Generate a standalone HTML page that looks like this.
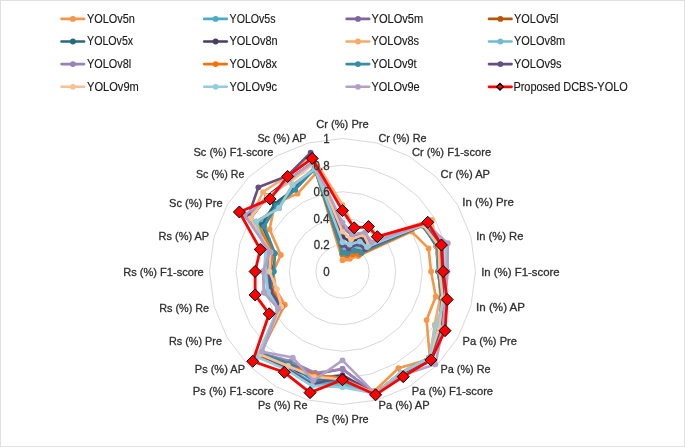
<!DOCTYPE html><html><head><meta charset="utf-8"><style>html,body{margin:0;padding:0;background:#fff;overflow:hidden;width:685px;height:447px;}svg{display:block;will-change:transform;}text{font-family:"Liberation Sans",sans-serif;}</style></head><body>
<svg width="685" height="447" viewBox="0 0 685 447">
<rect x="0" y="0" width="685" height="447" fill="#fff"/>
<rect x="0.5" y="0.5" width="684" height="446" fill="none" stroke="#e0e0e0" stroke-width="1"/>
<polygon points="342.50,244.90 349.38,245.81 355.80,248.46 361.31,252.69 365.54,258.20 368.19,264.62 369.10,271.50 368.19,278.38 365.54,284.80 361.31,290.31 355.80,294.54 349.38,297.19 342.50,298.10 335.62,297.19 329.20,294.54 323.69,290.31 319.46,284.80 316.81,278.38 315.90,271.50 316.81,264.62 319.46,258.20 323.69,252.69 329.20,248.46 335.62,245.81" fill="none" stroke="#d9d9d9" stroke-width="1"/>
<polygon points="342.50,218.30 356.27,220.11 369.10,225.43 380.12,233.88 388.57,244.90 393.89,257.73 395.70,271.50 393.89,285.27 388.57,298.10 380.12,309.12 369.10,317.57 356.27,322.89 342.50,324.70 328.73,322.89 315.90,317.57 304.88,309.12 296.43,298.10 291.11,285.27 289.30,271.50 291.11,257.73 296.43,244.90 304.88,233.88 315.90,225.43 328.73,220.11" fill="none" stroke="#d9d9d9" stroke-width="1"/>
<polygon points="342.50,191.70 363.15,194.42 382.40,202.39 398.93,215.07 411.61,231.60 419.58,250.85 422.30,271.50 419.58,292.15 411.61,311.40 398.93,327.93 382.40,340.61 363.15,348.58 342.50,351.30 321.85,348.58 302.60,340.61 286.07,327.93 273.39,311.40 265.42,292.15 262.70,271.50 265.42,250.85 273.39,231.60 286.07,215.07 302.60,202.39 321.85,194.42" fill="none" stroke="#d9d9d9" stroke-width="1"/>
<polygon points="342.50,165.10 370.04,168.73 395.70,179.35 417.74,196.26 434.65,218.30 445.27,243.96 448.90,271.50 445.27,299.04 434.65,324.70 417.74,346.74 395.70,363.65 370.04,374.27 342.50,377.90 314.96,374.27 289.30,363.65 267.26,346.74 250.35,324.70 239.73,299.04 236.10,271.50 239.73,243.96 250.35,218.30 267.26,196.26 289.30,179.35 314.96,168.73" fill="none" stroke="#d9d9d9" stroke-width="1"/>
<polygon points="342.50,138.50 376.92,143.03 409.00,156.32 436.55,177.45 457.68,205.00 470.97,237.08 475.50,271.50 470.97,305.92 457.68,338.00 436.55,365.55 409.00,386.68 376.92,399.97 342.50,404.50 308.08,399.97 276.00,386.68 248.45,365.55 227.32,338.00 214.03,305.92 209.50,271.50 214.03,237.08 227.32,205.00 248.45,177.45 276.00,156.32 308.08,143.03" fill="none" stroke="#d9d9d9" stroke-width="1"/>
<text x="316.24" y="128.10" font-size="11" fill="#303030" stroke="#303030" stroke-width="0.3" textLength="52.46" lengthAdjust="spacingAndGlyphs">Cr (%) Pre</text>
<text x="378.45" y="141.90" font-size="11" fill="#303030" stroke="#303030" stroke-width="0.3" textLength="48.13" lengthAdjust="spacingAndGlyphs">Cr (%) Re</text>
<text x="411.93" y="155.80" font-size="11" fill="#303030" stroke="#303030" stroke-width="0.3" textLength="79.16" lengthAdjust="spacingAndGlyphs">Cr (%) F1-score</text>
<text x="440.64" y="177.60" font-size="11" fill="#303030" stroke="#303030" stroke-width="0.3" textLength="49.36" lengthAdjust="spacingAndGlyphs">Cr (%) AP</text>
<text x="462.24" y="206.30" font-size="11" fill="#303030" stroke="#303030" stroke-width="0.3" textLength="51.57" lengthAdjust="spacingAndGlyphs">In (%) Pre</text>
<text x="476.17" y="239.80" font-size="11" fill="#303030" stroke="#303030" stroke-width="0.3" textLength="47.24" lengthAdjust="spacingAndGlyphs">In (%) Re</text>
<text x="481.15" y="275.50" font-size="11" fill="#303030" stroke="#303030" stroke-width="0.3" textLength="78.46" lengthAdjust="spacingAndGlyphs">In (%) F1-score</text>
<text x="476.13" y="311.00" font-size="11" fill="#303030" stroke="#303030" stroke-width="0.3" textLength="48.88" lengthAdjust="spacingAndGlyphs">In (%) AP</text>
<text x="462.59" y="344.90" font-size="11" fill="#303030" stroke="#303030" stroke-width="0.3" textLength="54.40" lengthAdjust="spacingAndGlyphs">Pa (%) Pre</text>
<text x="440.51" y="373.20" font-size="11" fill="#303030" stroke="#303030" stroke-width="0.3" textLength="50.07" lengthAdjust="spacingAndGlyphs">Pa (%) Re</text>
<text x="411.69" y="395.30" font-size="11" fill="#303030" stroke="#303030" stroke-width="0.3" textLength="81.41" lengthAdjust="spacingAndGlyphs">Pa (%) F1-score</text>
<text x="378.49" y="408.90" font-size="11" fill="#303030" stroke="#303030" stroke-width="0.3" textLength="51.19" lengthAdjust="spacingAndGlyphs">Pa (%) AP</text>
<text x="315.91" y="422.60" font-size="11" fill="#303030" stroke="#303030" stroke-width="0.3" textLength="52.68" lengthAdjust="spacingAndGlyphs">Ps (%) Pre</text>
<text x="258.12" y="408.90" font-size="11" fill="#303030" stroke="#303030" stroke-width="0.3" textLength="49.37" lengthAdjust="spacingAndGlyphs">Ps (%) Re</text>
<text x="192.79" y="395.30" font-size="11" fill="#303030" stroke="#303030" stroke-width="0.3" textLength="80.92" lengthAdjust="spacingAndGlyphs">Ps (%) F1-score</text>
<text x="194.80" y="373.20" font-size="11" fill="#303030" stroke="#303030" stroke-width="0.3" textLength="50.18" lengthAdjust="spacingAndGlyphs">Ps (%) AP</text>
<text x="168.91" y="344.90" font-size="11" fill="#303030" stroke="#303030" stroke-width="0.3" textLength="53.07" lengthAdjust="spacingAndGlyphs">Rs (%) Pre</text>
<text x="159.22" y="311.50" font-size="11" fill="#303030" stroke="#303030" stroke-width="0.3" textLength="49.87" lengthAdjust="spacingAndGlyphs">Rs (%) Re</text>
<text x="123.20" y="275.50" font-size="11" fill="#303030" stroke="#303030" stroke-width="0.3" textLength="80.59" lengthAdjust="spacingAndGlyphs">Rs (%) F1-score</text>
<text x="158.60" y="240.10" font-size="11" fill="#303030" stroke="#303030" stroke-width="0.3" textLength="50.57" lengthAdjust="spacingAndGlyphs">Rs (%) AP</text>
<text x="168.99" y="206.60" font-size="11" fill="#303030" stroke="#303030" stroke-width="0.3" textLength="53.61" lengthAdjust="spacingAndGlyphs">Sc (%) Pre</text>
<text x="195.91" y="177.70" font-size="11" fill="#303030" stroke="#303030" stroke-width="0.3" textLength="48.46" lengthAdjust="spacingAndGlyphs">Sc (%) Re</text>
<text x="193.49" y="155.70" font-size="11" fill="#303030" stroke="#303030" stroke-width="0.3" textLength="79.80" lengthAdjust="spacingAndGlyphs">Sc (%) F1-score</text>
<text x="257.41" y="142.10" font-size="11" fill="#303030" stroke="#303030" stroke-width="0.3" textLength="49.16" lengthAdjust="spacingAndGlyphs">Sc (%) AP</text>
<polygon points="342.50,260.19 345.94,258.65 349.81,258.83 358.02,255.98 411.61,231.60 428.57,248.44 431.08,271.50 435.77,296.49 426.58,320.04 429.96,358.96 398.36,368.25 374.51,390.98 342.50,377.90 314.62,375.56 288.63,364.80 259.74,354.26 284.91,304.75 275.70,289.40 273.34,271.50 280.84,254.98 269.59,229.41 274.79,203.79 297.55,193.64 316.13,173.09" fill="none" stroke="#F79646" stroke-width="2.6" stroke-linejoin="round"/>
<circle cx="342.50" cy="260.19" r="2.9" fill="#F79646"/>
<circle cx="345.94" cy="258.65" r="2.9" fill="#F79646"/>
<circle cx="349.81" cy="258.83" r="2.9" fill="#F79646"/>
<circle cx="358.02" cy="255.98" r="2.9" fill="#F79646"/>
<circle cx="411.61" cy="231.60" r="2.9" fill="#F79646"/>
<circle cx="428.57" cy="248.44" r="2.9" fill="#F79646"/>
<circle cx="431.08" cy="271.50" r="2.9" fill="#F79646"/>
<circle cx="435.77" cy="296.49" r="2.9" fill="#F79646"/>
<circle cx="426.58" cy="320.04" r="2.9" fill="#F79646"/>
<circle cx="429.96" cy="358.96" r="2.9" fill="#F79646"/>
<circle cx="398.36" cy="368.25" r="2.9" fill="#F79646"/>
<circle cx="374.51" cy="390.98" r="2.9" fill="#F79646"/>
<circle cx="342.50" cy="377.90" r="2.9" fill="#F79646"/>
<circle cx="314.62" cy="375.56" r="2.9" fill="#F79646"/>
<circle cx="288.63" cy="364.80" r="2.9" fill="#F79646"/>
<circle cx="259.74" cy="354.26" r="2.9" fill="#F79646"/>
<circle cx="284.91" cy="304.75" r="2.9" fill="#F79646"/>
<circle cx="275.70" cy="289.40" r="2.9" fill="#F79646"/>
<circle cx="273.34" cy="271.50" r="2.9" fill="#F79646"/>
<circle cx="280.84" cy="254.98" r="2.9" fill="#F79646"/>
<circle cx="269.59" cy="229.41" r="2.9" fill="#F79646"/>
<circle cx="274.79" cy="203.79" r="2.9" fill="#F79646"/>
<circle cx="297.55" cy="193.64" r="2.9" fill="#F79646"/>
<circle cx="316.13" cy="173.09" r="2.9" fill="#F79646"/>
<polygon points="342.50,250.22 348.01,250.95 355.80,248.46 363.19,250.81 423.13,224.95 437.57,246.03 439.59,271.50 442.71,298.35 439.25,327.36 429.02,358.02 401.02,372.86 375.20,393.54 342.50,383.22 312.55,383.27 287.31,367.10 259.74,354.26 279.15,308.08 269.27,291.12 268.02,271.50 269.27,251.88 258.42,222.95 276.67,205.67 293.95,187.42 314.96,168.73" fill="none" stroke="#4BACC6" stroke-width="2.6" stroke-linejoin="round"/>
<circle cx="342.50" cy="250.22" r="2.9" fill="#4BACC6"/>
<circle cx="348.01" cy="250.95" r="2.9" fill="#4BACC6"/>
<circle cx="355.80" cy="248.46" r="2.9" fill="#4BACC6"/>
<circle cx="363.19" cy="250.81" r="2.9" fill="#4BACC6"/>
<circle cx="423.13" cy="224.95" r="2.9" fill="#4BACC6"/>
<circle cx="437.57" cy="246.03" r="2.9" fill="#4BACC6"/>
<circle cx="439.59" cy="271.50" r="2.9" fill="#4BACC6"/>
<circle cx="442.71" cy="298.35" r="2.9" fill="#4BACC6"/>
<circle cx="439.25" cy="327.36" r="2.9" fill="#4BACC6"/>
<circle cx="429.02" cy="358.02" r="2.9" fill="#4BACC6"/>
<circle cx="401.02" cy="372.86" r="2.9" fill="#4BACC6"/>
<circle cx="375.20" cy="393.54" r="2.9" fill="#4BACC6"/>
<circle cx="342.50" cy="383.22" r="2.9" fill="#4BACC6"/>
<circle cx="312.55" cy="383.27" r="2.9" fill="#4BACC6"/>
<circle cx="287.31" cy="367.10" r="2.9" fill="#4BACC6"/>
<circle cx="259.74" cy="354.26" r="2.9" fill="#4BACC6"/>
<circle cx="279.15" cy="308.08" r="2.9" fill="#4BACC6"/>
<circle cx="269.27" cy="291.12" r="2.9" fill="#4BACC6"/>
<circle cx="268.02" cy="271.50" r="2.9" fill="#4BACC6"/>
<circle cx="269.27" cy="251.88" r="2.9" fill="#4BACC6"/>
<circle cx="258.42" cy="222.95" r="2.9" fill="#4BACC6"/>
<circle cx="276.67" cy="205.67" r="2.9" fill="#4BACC6"/>
<circle cx="293.95" cy="187.42" r="2.9" fill="#4BACC6"/>
<circle cx="314.96" cy="168.73" r="2.9" fill="#4BACC6"/>
<polygon points="342.50,242.24 349.04,247.09 359.12,242.70 366.01,247.99 424.28,224.28 440.14,245.34 440.92,271.50 443.99,298.69 440.40,328.02 429.96,358.96 401.69,374.01 375.20,393.54 342.50,368.99 314.96,374.27 289.96,362.49 260.68,353.32 280.30,307.41 270.56,290.78 269.35,271.50 270.56,252.22 248.05,216.97 267.26,196.26 289.30,179.35 313.24,162.30" fill="none" stroke="#8064A2" stroke-width="2.6" stroke-linejoin="round"/>
<circle cx="342.50" cy="242.24" r="2.9" fill="#8064A2"/>
<circle cx="349.04" cy="247.09" r="2.9" fill="#8064A2"/>
<circle cx="359.12" cy="242.70" r="2.9" fill="#8064A2"/>
<circle cx="366.01" cy="247.99" r="2.9" fill="#8064A2"/>
<circle cx="424.28" cy="224.28" r="2.9" fill="#8064A2"/>
<circle cx="440.14" cy="245.34" r="2.9" fill="#8064A2"/>
<circle cx="440.92" cy="271.50" r="2.9" fill="#8064A2"/>
<circle cx="443.99" cy="298.69" r="2.9" fill="#8064A2"/>
<circle cx="440.40" cy="328.02" r="2.9" fill="#8064A2"/>
<circle cx="429.96" cy="358.96" r="2.9" fill="#8064A2"/>
<circle cx="401.69" cy="374.01" r="2.9" fill="#8064A2"/>
<circle cx="375.20" cy="393.54" r="2.9" fill="#8064A2"/>
<circle cx="342.50" cy="368.99" r="2.9" fill="#8064A2"/>
<circle cx="314.96" cy="374.27" r="2.9" fill="#8064A2"/>
<circle cx="289.96" cy="362.49" r="2.9" fill="#8064A2"/>
<circle cx="260.68" cy="353.32" r="2.9" fill="#8064A2"/>
<circle cx="280.30" cy="307.41" r="2.9" fill="#8064A2"/>
<circle cx="270.56" cy="290.78" r="2.9" fill="#8064A2"/>
<circle cx="269.35" cy="271.50" r="2.9" fill="#8064A2"/>
<circle cx="270.56" cy="252.22" r="2.9" fill="#8064A2"/>
<circle cx="248.05" cy="216.97" r="2.9" fill="#8064A2"/>
<circle cx="267.26" cy="196.26" r="2.9" fill="#8064A2"/>
<circle cx="289.30" cy="179.35" r="2.9" fill="#8064A2"/>
<circle cx="313.24" cy="162.30" r="2.9" fill="#8064A2"/>
<polygon points="342.50,250.22 347.66,252.23 355.13,249.62 362.25,251.75 424.28,224.28 438.85,245.68 439.59,271.50 442.71,298.35 439.25,327.36 429.02,358.02 401.02,372.86 375.20,393.54 342.50,377.90 314.62,375.56 288.63,364.80 258.80,355.20 281.45,306.75 271.84,290.43 269.35,271.50 271.84,252.57 250.35,218.30 267.26,196.26 289.96,180.51 313.24,162.30" fill="none" stroke="#B65708" stroke-width="2.6" stroke-linejoin="round"/>
<circle cx="342.50" cy="250.22" r="2.9" fill="#B65708"/>
<circle cx="347.66" cy="252.23" r="2.9" fill="#B65708"/>
<circle cx="355.13" cy="249.62" r="2.9" fill="#B65708"/>
<circle cx="362.25" cy="251.75" r="2.9" fill="#B65708"/>
<circle cx="424.28" cy="224.28" r="2.9" fill="#B65708"/>
<circle cx="438.85" cy="245.68" r="2.9" fill="#B65708"/>
<circle cx="439.59" cy="271.50" r="2.9" fill="#B65708"/>
<circle cx="442.71" cy="298.35" r="2.9" fill="#B65708"/>
<circle cx="439.25" cy="327.36" r="2.9" fill="#B65708"/>
<circle cx="429.02" cy="358.02" r="2.9" fill="#B65708"/>
<circle cx="401.02" cy="372.86" r="2.9" fill="#B65708"/>
<circle cx="375.20" cy="393.54" r="2.9" fill="#B65708"/>
<circle cx="342.50" cy="377.90" r="2.9" fill="#B65708"/>
<circle cx="314.62" cy="375.56" r="2.9" fill="#B65708"/>
<circle cx="288.63" cy="364.80" r="2.9" fill="#B65708"/>
<circle cx="258.80" cy="355.20" r="2.9" fill="#B65708"/>
<circle cx="281.45" cy="306.75" r="2.9" fill="#B65708"/>
<circle cx="271.84" cy="290.43" r="2.9" fill="#B65708"/>
<circle cx="269.35" cy="271.50" r="2.9" fill="#B65708"/>
<circle cx="271.84" cy="252.57" r="2.9" fill="#B65708"/>
<circle cx="250.35" cy="218.30" r="2.9" fill="#B65708"/>
<circle cx="267.26" cy="196.26" r="2.9" fill="#B65708"/>
<circle cx="289.96" cy="180.51" r="2.9" fill="#B65708"/>
<circle cx="313.24" cy="162.30" r="2.9" fill="#B65708"/>
<polygon points="342.50,254.21 346.97,254.80 353.81,251.92 360.37,253.63 423.13,224.95 436.28,246.37 438.26,271.50 441.42,298.01 440.40,328.02 429.02,358.02 401.02,372.86 375.20,393.54 342.50,379.23 313.58,379.41 289.30,363.65 260.68,353.32 280.30,307.41 270.56,290.78 272.01,271.50 274.41,253.26 261.87,224.95 274.79,203.79 294.62,188.57 314.62,167.44" fill="none" stroke="#276A7C" stroke-width="2.6" stroke-linejoin="round"/>
<circle cx="342.50" cy="254.21" r="2.9" fill="#276A7C"/>
<circle cx="346.97" cy="254.80" r="2.9" fill="#276A7C"/>
<circle cx="353.81" cy="251.92" r="2.9" fill="#276A7C"/>
<circle cx="360.37" cy="253.63" r="2.9" fill="#276A7C"/>
<circle cx="423.13" cy="224.95" r="2.9" fill="#276A7C"/>
<circle cx="436.28" cy="246.37" r="2.9" fill="#276A7C"/>
<circle cx="438.26" cy="271.50" r="2.9" fill="#276A7C"/>
<circle cx="441.42" cy="298.01" r="2.9" fill="#276A7C"/>
<circle cx="440.40" cy="328.02" r="2.9" fill="#276A7C"/>
<circle cx="429.02" cy="358.02" r="2.9" fill="#276A7C"/>
<circle cx="401.02" cy="372.86" r="2.9" fill="#276A7C"/>
<circle cx="375.20" cy="393.54" r="2.9" fill="#276A7C"/>
<circle cx="342.50" cy="379.23" r="2.9" fill="#276A7C"/>
<circle cx="313.58" cy="379.41" r="2.9" fill="#276A7C"/>
<circle cx="289.30" cy="363.65" r="2.9" fill="#276A7C"/>
<circle cx="260.68" cy="353.32" r="2.9" fill="#276A7C"/>
<circle cx="280.30" cy="307.41" r="2.9" fill="#276A7C"/>
<circle cx="270.56" cy="290.78" r="2.9" fill="#276A7C"/>
<circle cx="272.01" cy="271.50" r="2.9" fill="#276A7C"/>
<circle cx="274.41" cy="253.26" r="2.9" fill="#276A7C"/>
<circle cx="261.87" cy="224.95" r="2.9" fill="#276A7C"/>
<circle cx="274.79" cy="203.79" r="2.9" fill="#276A7C"/>
<circle cx="294.62" cy="188.57" r="2.9" fill="#276A7C"/>
<circle cx="314.62" cy="167.44" r="2.9" fill="#276A7C"/>
<polygon points="342.50,236.92 350.42,241.95 361.78,238.10 367.89,246.11 425.43,223.62 440.14,245.34 440.92,271.50 443.99,298.69 441.56,328.69 429.96,358.96 401.69,374.01 375.20,393.54 342.50,375.24 313.93,378.13 287.31,367.10 259.74,354.26 281.45,306.75 271.84,290.43 270.68,271.50 271.84,252.57 250.35,218.30 267.26,196.26 289.30,179.35 313.24,162.30" fill="none" stroke="#4C3B62" stroke-width="2.6" stroke-linejoin="round"/>
<circle cx="342.50" cy="236.92" r="2.9" fill="#4C3B62"/>
<circle cx="350.42" cy="241.95" r="2.9" fill="#4C3B62"/>
<circle cx="361.78" cy="238.10" r="2.9" fill="#4C3B62"/>
<circle cx="367.89" cy="246.11" r="2.9" fill="#4C3B62"/>
<circle cx="425.43" cy="223.62" r="2.9" fill="#4C3B62"/>
<circle cx="440.14" cy="245.34" r="2.9" fill="#4C3B62"/>
<circle cx="440.92" cy="271.50" r="2.9" fill="#4C3B62"/>
<circle cx="443.99" cy="298.69" r="2.9" fill="#4C3B62"/>
<circle cx="441.56" cy="328.69" r="2.9" fill="#4C3B62"/>
<circle cx="429.96" cy="358.96" r="2.9" fill="#4C3B62"/>
<circle cx="401.69" cy="374.01" r="2.9" fill="#4C3B62"/>
<circle cx="375.20" cy="393.54" r="2.9" fill="#4C3B62"/>
<circle cx="342.50" cy="375.24" r="2.9" fill="#4C3B62"/>
<circle cx="313.93" cy="378.13" r="2.9" fill="#4C3B62"/>
<circle cx="287.31" cy="367.10" r="2.9" fill="#4C3B62"/>
<circle cx="259.74" cy="354.26" r="2.9" fill="#4C3B62"/>
<circle cx="281.45" cy="306.75" r="2.9" fill="#4C3B62"/>
<circle cx="271.84" cy="290.43" r="2.9" fill="#4C3B62"/>
<circle cx="270.68" cy="271.50" r="2.9" fill="#4C3B62"/>
<circle cx="271.84" cy="252.57" r="2.9" fill="#4C3B62"/>
<circle cx="250.35" cy="218.30" r="2.9" fill="#4C3B62"/>
<circle cx="267.26" cy="196.26" r="2.9" fill="#4C3B62"/>
<circle cx="289.30" cy="179.35" r="2.9" fill="#4C3B62"/>
<circle cx="313.24" cy="162.30" r="2.9" fill="#4C3B62"/>
<polygon points="342.50,205.00 354.20,227.82 367.77,227.73 376.36,237.64 432.00,219.83 436.28,246.37 438.93,271.50 440.14,297.66 434.65,324.70 429.96,358.96 401.69,374.01 375.20,393.54 342.50,377.90 314.62,375.56 287.97,365.95 259.74,354.26 282.61,306.08 273.13,290.09 269.35,271.50 274.41,253.26 250.35,218.30 263.03,192.03 287.30,175.90 311.18,154.59" fill="none" stroke="#F9AA6A" stroke-width="2.6" stroke-linejoin="round"/>
<circle cx="342.50" cy="205.00" r="2.9" fill="#F9AA6A"/>
<circle cx="354.20" cy="227.82" r="2.9" fill="#F9AA6A"/>
<circle cx="367.77" cy="227.73" r="2.9" fill="#F9AA6A"/>
<circle cx="376.36" cy="237.64" r="2.9" fill="#F9AA6A"/>
<circle cx="432.00" cy="219.83" r="2.9" fill="#F9AA6A"/>
<circle cx="436.28" cy="246.37" r="2.9" fill="#F9AA6A"/>
<circle cx="438.93" cy="271.50" r="2.9" fill="#F9AA6A"/>
<circle cx="440.14" cy="297.66" r="2.9" fill="#F9AA6A"/>
<circle cx="434.65" cy="324.70" r="2.9" fill="#F9AA6A"/>
<circle cx="429.96" cy="358.96" r="2.9" fill="#F9AA6A"/>
<circle cx="401.69" cy="374.01" r="2.9" fill="#F9AA6A"/>
<circle cx="375.20" cy="393.54" r="2.9" fill="#F9AA6A"/>
<circle cx="342.50" cy="377.90" r="2.9" fill="#F9AA6A"/>
<circle cx="314.62" cy="375.56" r="2.9" fill="#F9AA6A"/>
<circle cx="287.97" cy="365.95" r="2.9" fill="#F9AA6A"/>
<circle cx="259.74" cy="354.26" r="2.9" fill="#F9AA6A"/>
<circle cx="282.61" cy="306.08" r="2.9" fill="#F9AA6A"/>
<circle cx="273.13" cy="290.09" r="2.9" fill="#F9AA6A"/>
<circle cx="269.35" cy="271.50" r="2.9" fill="#F9AA6A"/>
<circle cx="274.41" cy="253.26" r="2.9" fill="#F9AA6A"/>
<circle cx="250.35" cy="218.30" r="2.9" fill="#F9AA6A"/>
<circle cx="263.03" cy="192.03" r="2.9" fill="#F9AA6A"/>
<circle cx="287.30" cy="175.90" r="2.9" fill="#F9AA6A"/>
<circle cx="311.18" cy="154.59" r="2.9" fill="#F9AA6A"/>
<polygon points="342.50,247.56 348.35,249.66 357.13,246.16 364.13,249.87 423.13,224.95 438.85,245.68 439.59,271.50 442.71,298.35 438.10,326.69 429.02,358.02 401.02,372.86 375.20,393.54 342.50,384.55 311.93,385.58 287.31,367.10 259.74,354.26 278.00,308.74 267.99,291.47 265.36,271.50 265.42,250.85 256.11,221.62 279.02,208.02 292.62,185.11 315.31,170.01" fill="none" stroke="#6FBCD1" stroke-width="2.6" stroke-linejoin="round"/>
<circle cx="342.50" cy="247.56" r="2.9" fill="#6FBCD1"/>
<circle cx="348.35" cy="249.66" r="2.9" fill="#6FBCD1"/>
<circle cx="357.13" cy="246.16" r="2.9" fill="#6FBCD1"/>
<circle cx="364.13" cy="249.87" r="2.9" fill="#6FBCD1"/>
<circle cx="423.13" cy="224.95" r="2.9" fill="#6FBCD1"/>
<circle cx="438.85" cy="245.68" r="2.9" fill="#6FBCD1"/>
<circle cx="439.59" cy="271.50" r="2.9" fill="#6FBCD1"/>
<circle cx="442.71" cy="298.35" r="2.9" fill="#6FBCD1"/>
<circle cx="438.10" cy="326.69" r="2.9" fill="#6FBCD1"/>
<circle cx="429.02" cy="358.02" r="2.9" fill="#6FBCD1"/>
<circle cx="401.02" cy="372.86" r="2.9" fill="#6FBCD1"/>
<circle cx="375.20" cy="393.54" r="2.9" fill="#6FBCD1"/>
<circle cx="342.50" cy="384.55" r="2.9" fill="#6FBCD1"/>
<circle cx="311.93" cy="385.58" r="2.9" fill="#6FBCD1"/>
<circle cx="287.31" cy="367.10" r="2.9" fill="#6FBCD1"/>
<circle cx="259.74" cy="354.26" r="2.9" fill="#6FBCD1"/>
<circle cx="278.00" cy="308.74" r="2.9" fill="#6FBCD1"/>
<circle cx="267.99" cy="291.47" r="2.9" fill="#6FBCD1"/>
<circle cx="265.36" cy="271.50" r="2.9" fill="#6FBCD1"/>
<circle cx="265.42" cy="250.85" r="2.9" fill="#6FBCD1"/>
<circle cx="256.11" cy="221.62" r="2.9" fill="#6FBCD1"/>
<circle cx="279.02" cy="208.02" r="2.9" fill="#6FBCD1"/>
<circle cx="292.62" cy="185.11" r="2.9" fill="#6FBCD1"/>
<circle cx="315.31" cy="170.01" r="2.9" fill="#6FBCD1"/>
<polygon points="342.50,227.61 352.14,235.53 364.44,233.49 370.71,243.29 425.43,223.62 442.71,244.65 443.58,271.50 443.99,298.69 441.56,328.69 431.84,360.84 401.69,374.01 375.20,393.54 342.50,368.99 315.31,372.99 290.63,361.34 260.68,353.32 278.34,308.54 264.13,292.50 263.10,271.50 269.92,252.05 245.75,215.64 269.14,198.14 289.30,179.35 313.24,162.30" fill="none" stroke="#9982B4" stroke-width="2.6" stroke-linejoin="round"/>
<circle cx="342.50" cy="227.61" r="2.9" fill="#9982B4"/>
<circle cx="352.14" cy="235.53" r="2.9" fill="#9982B4"/>
<circle cx="364.44" cy="233.49" r="2.9" fill="#9982B4"/>
<circle cx="370.71" cy="243.29" r="2.9" fill="#9982B4"/>
<circle cx="425.43" cy="223.62" r="2.9" fill="#9982B4"/>
<circle cx="442.71" cy="244.65" r="2.9" fill="#9982B4"/>
<circle cx="443.58" cy="271.50" r="2.9" fill="#9982B4"/>
<circle cx="443.99" cy="298.69" r="2.9" fill="#9982B4"/>
<circle cx="441.56" cy="328.69" r="2.9" fill="#9982B4"/>
<circle cx="431.84" cy="360.84" r="2.9" fill="#9982B4"/>
<circle cx="401.69" cy="374.01" r="2.9" fill="#9982B4"/>
<circle cx="375.20" cy="393.54" r="2.9" fill="#9982B4"/>
<circle cx="342.50" cy="368.99" r="2.9" fill="#9982B4"/>
<circle cx="315.31" cy="372.99" r="2.9" fill="#9982B4"/>
<circle cx="290.63" cy="361.34" r="2.9" fill="#9982B4"/>
<circle cx="260.68" cy="353.32" r="2.9" fill="#9982B4"/>
<circle cx="278.34" cy="308.54" r="2.9" fill="#9982B4"/>
<circle cx="264.13" cy="292.50" r="2.9" fill="#9982B4"/>
<circle cx="263.10" cy="271.50" r="2.9" fill="#9982B4"/>
<circle cx="269.92" cy="252.05" r="2.9" fill="#9982B4"/>
<circle cx="245.75" cy="215.64" r="2.9" fill="#9982B4"/>
<circle cx="269.14" cy="198.14" r="2.9" fill="#9982B4"/>
<circle cx="289.30" cy="179.35" r="2.9" fill="#9982B4"/>
<circle cx="313.24" cy="162.30" r="2.9" fill="#9982B4"/>
<polygon points="342.50,254.21 346.97,254.80 352.48,254.22 359.43,254.57 423.13,224.95 437.57,246.03 438.26,271.50 441.42,298.01 440.40,328.02 429.96,358.96 401.69,374.01 375.20,393.54 342.50,377.90 314.72,375.17 288.37,365.26 257.86,356.14 282.61,306.08 273.13,290.09 269.35,271.50 273.13,252.91 256.11,221.62 279.02,208.02 292.62,185.11 314.96,168.73" fill="none" stroke="#F3730A" stroke-width="2.6" stroke-linejoin="round"/>
<circle cx="342.50" cy="254.21" r="2.9" fill="#F3730A"/>
<circle cx="346.97" cy="254.80" r="2.9" fill="#F3730A"/>
<circle cx="352.48" cy="254.22" r="2.9" fill="#F3730A"/>
<circle cx="359.43" cy="254.57" r="2.9" fill="#F3730A"/>
<circle cx="423.13" cy="224.95" r="2.9" fill="#F3730A"/>
<circle cx="437.57" cy="246.03" r="2.9" fill="#F3730A"/>
<circle cx="438.26" cy="271.50" r="2.9" fill="#F3730A"/>
<circle cx="441.42" cy="298.01" r="2.9" fill="#F3730A"/>
<circle cx="440.40" cy="328.02" r="2.9" fill="#F3730A"/>
<circle cx="429.96" cy="358.96" r="2.9" fill="#F3730A"/>
<circle cx="401.69" cy="374.01" r="2.9" fill="#F3730A"/>
<circle cx="375.20" cy="393.54" r="2.9" fill="#F3730A"/>
<circle cx="342.50" cy="377.90" r="2.9" fill="#F3730A"/>
<circle cx="314.72" cy="375.17" r="2.9" fill="#F3730A"/>
<circle cx="288.37" cy="365.26" r="2.9" fill="#F3730A"/>
<circle cx="257.86" cy="356.14" r="2.9" fill="#F3730A"/>
<circle cx="282.61" cy="306.08" r="2.9" fill="#F3730A"/>
<circle cx="273.13" cy="290.09" r="2.9" fill="#F3730A"/>
<circle cx="269.35" cy="271.50" r="2.9" fill="#F3730A"/>
<circle cx="273.13" cy="252.91" r="2.9" fill="#F3730A"/>
<circle cx="256.11" cy="221.62" r="2.9" fill="#F3730A"/>
<circle cx="279.02" cy="208.02" r="2.9" fill="#F3730A"/>
<circle cx="292.62" cy="185.11" r="2.9" fill="#F3730A"/>
<circle cx="314.96" cy="168.73" r="2.9" fill="#F3730A"/>
<polygon points="342.50,252.88 347.32,253.51 354.47,250.77 361.31,252.69 421.98,225.62 437.57,246.03 438.26,271.50 441.42,298.01 440.40,328.02 429.02,358.02 401.02,372.86 375.20,393.54 342.50,380.56 313.24,380.70 289.30,363.65 260.68,353.32 280.88,307.08 270.56,290.78 273.87,271.50 275.05,253.43 264.18,226.28 276.67,205.67 295.28,189.72 314.96,168.73" fill="none" stroke="#358DA6" stroke-width="2.6" stroke-linejoin="round"/>
<circle cx="342.50" cy="252.88" r="2.9" fill="#358DA6"/>
<circle cx="347.32" cy="253.51" r="2.9" fill="#358DA6"/>
<circle cx="354.47" cy="250.77" r="2.9" fill="#358DA6"/>
<circle cx="361.31" cy="252.69" r="2.9" fill="#358DA6"/>
<circle cx="421.98" cy="225.62" r="2.9" fill="#358DA6"/>
<circle cx="437.57" cy="246.03" r="2.9" fill="#358DA6"/>
<circle cx="438.26" cy="271.50" r="2.9" fill="#358DA6"/>
<circle cx="441.42" cy="298.01" r="2.9" fill="#358DA6"/>
<circle cx="440.40" cy="328.02" r="2.9" fill="#358DA6"/>
<circle cx="429.02" cy="358.02" r="2.9" fill="#358DA6"/>
<circle cx="401.02" cy="372.86" r="2.9" fill="#358DA6"/>
<circle cx="375.20" cy="393.54" r="2.9" fill="#358DA6"/>
<circle cx="342.50" cy="380.56" r="2.9" fill="#358DA6"/>
<circle cx="313.24" cy="380.70" r="2.9" fill="#358DA6"/>
<circle cx="289.30" cy="363.65" r="2.9" fill="#358DA6"/>
<circle cx="260.68" cy="353.32" r="2.9" fill="#358DA6"/>
<circle cx="280.88" cy="307.08" r="2.9" fill="#358DA6"/>
<circle cx="270.56" cy="290.78" r="2.9" fill="#358DA6"/>
<circle cx="273.87" cy="271.50" r="2.9" fill="#358DA6"/>
<circle cx="275.05" cy="253.43" r="2.9" fill="#358DA6"/>
<circle cx="264.18" cy="226.28" r="2.9" fill="#358DA6"/>
<circle cx="276.67" cy="205.67" r="2.9" fill="#358DA6"/>
<circle cx="295.28" cy="189.72" r="2.9" fill="#358DA6"/>
<circle cx="314.96" cy="168.73" r="2.9" fill="#358DA6"/>
<polygon points="342.50,244.90 348.70,248.38 358.46,243.86 365.07,248.93 424.28,224.28 440.14,245.34 440.92,271.50 443.99,298.69 440.40,328.02 429.96,358.96 401.69,374.01 375.20,393.54 342.50,376.57 312.21,384.55 286.64,368.25 259.74,354.26 281.45,306.75 270.56,290.78 269.35,271.50 270.56,252.22 248.05,216.97 258.33,187.33 287.30,175.90 310.66,152.67" fill="none" stroke="#654E82" stroke-width="2.6" stroke-linejoin="round"/>
<circle cx="342.50" cy="244.90" r="2.9" fill="#654E82"/>
<circle cx="348.70" cy="248.38" r="2.9" fill="#654E82"/>
<circle cx="358.46" cy="243.86" r="2.9" fill="#654E82"/>
<circle cx="365.07" cy="248.93" r="2.9" fill="#654E82"/>
<circle cx="424.28" cy="224.28" r="2.9" fill="#654E82"/>
<circle cx="440.14" cy="245.34" r="2.9" fill="#654E82"/>
<circle cx="440.92" cy="271.50" r="2.9" fill="#654E82"/>
<circle cx="443.99" cy="298.69" r="2.9" fill="#654E82"/>
<circle cx="440.40" cy="328.02" r="2.9" fill="#654E82"/>
<circle cx="429.96" cy="358.96" r="2.9" fill="#654E82"/>
<circle cx="401.69" cy="374.01" r="2.9" fill="#654E82"/>
<circle cx="375.20" cy="393.54" r="2.9" fill="#654E82"/>
<circle cx="342.50" cy="376.57" r="2.9" fill="#654E82"/>
<circle cx="312.21" cy="384.55" r="2.9" fill="#654E82"/>
<circle cx="286.64" cy="368.25" r="2.9" fill="#654E82"/>
<circle cx="259.74" cy="354.26" r="2.9" fill="#654E82"/>
<circle cx="281.45" cy="306.75" r="2.9" fill="#654E82"/>
<circle cx="270.56" cy="290.78" r="2.9" fill="#654E82"/>
<circle cx="269.35" cy="271.50" r="2.9" fill="#654E82"/>
<circle cx="270.56" cy="252.22" r="2.9" fill="#654E82"/>
<circle cx="248.05" cy="216.97" r="2.9" fill="#654E82"/>
<circle cx="258.33" cy="187.33" r="2.9" fill="#654E82"/>
<circle cx="287.30" cy="175.90" r="2.9" fill="#654E82"/>
<circle cx="310.66" cy="152.67" r="2.9" fill="#654E82"/>
<polygon points="342.50,231.60 351.11,239.38 363.78,234.64 368.83,245.17 423.13,224.95 438.85,245.68 439.59,271.50 442.71,298.35 439.25,327.36 429.02,358.02 401.02,372.86 375.20,393.54 342.50,379.23 314.27,376.84 287.97,365.95 259.74,354.26 281.45,306.75 276.98,289.06 269.35,271.50 270.56,252.22 250.35,218.30 267.26,196.26 290.63,181.66 313.58,163.59" fill="none" stroke="#FAC08F" stroke-width="2.6" stroke-linejoin="round"/>
<circle cx="342.50" cy="231.60" r="2.9" fill="#FAC08F"/>
<circle cx="351.11" cy="239.38" r="2.9" fill="#FAC08F"/>
<circle cx="363.78" cy="234.64" r="2.9" fill="#FAC08F"/>
<circle cx="368.83" cy="245.17" r="2.9" fill="#FAC08F"/>
<circle cx="423.13" cy="224.95" r="2.9" fill="#FAC08F"/>
<circle cx="438.85" cy="245.68" r="2.9" fill="#FAC08F"/>
<circle cx="439.59" cy="271.50" r="2.9" fill="#FAC08F"/>
<circle cx="442.71" cy="298.35" r="2.9" fill="#FAC08F"/>
<circle cx="439.25" cy="327.36" r="2.9" fill="#FAC08F"/>
<circle cx="429.02" cy="358.02" r="2.9" fill="#FAC08F"/>
<circle cx="401.02" cy="372.86" r="2.9" fill="#FAC08F"/>
<circle cx="375.20" cy="393.54" r="2.9" fill="#FAC08F"/>
<circle cx="342.50" cy="379.23" r="2.9" fill="#FAC08F"/>
<circle cx="314.27" cy="376.84" r="2.9" fill="#FAC08F"/>
<circle cx="287.97" cy="365.95" r="2.9" fill="#FAC08F"/>
<circle cx="259.74" cy="354.26" r="2.9" fill="#FAC08F"/>
<circle cx="281.45" cy="306.75" r="2.9" fill="#FAC08F"/>
<circle cx="276.98" cy="289.06" r="2.9" fill="#FAC08F"/>
<circle cx="269.35" cy="271.50" r="2.9" fill="#FAC08F"/>
<circle cx="270.56" cy="252.22" r="2.9" fill="#FAC08F"/>
<circle cx="250.35" cy="218.30" r="2.9" fill="#FAC08F"/>
<circle cx="267.26" cy="196.26" r="2.9" fill="#FAC08F"/>
<circle cx="290.63" cy="181.66" r="2.9" fill="#FAC08F"/>
<circle cx="313.58" cy="163.59" r="2.9" fill="#FAC08F"/>
<polygon points="342.50,242.24 349.73,244.52 359.79,241.55 366.95,247.05 427.73,222.29 445.27,243.96 446.24,271.50 445.27,299.04 435.80,325.37 429.02,358.02 401.02,372.86 375.20,393.54 342.50,387.21 311.86,385.84 285.97,369.40 256.92,357.08 278.00,308.74 267.99,291.47 264.56,271.50 265.42,250.85 256.11,221.62 279.02,208.02 292.62,185.11 314.96,168.73" fill="none" stroke="#93CDDD" stroke-width="2.6" stroke-linejoin="round"/>
<circle cx="342.50" cy="242.24" r="2.9" fill="#93CDDD"/>
<circle cx="349.73" cy="244.52" r="2.9" fill="#93CDDD"/>
<circle cx="359.79" cy="241.55" r="2.9" fill="#93CDDD"/>
<circle cx="366.95" cy="247.05" r="2.9" fill="#93CDDD"/>
<circle cx="427.73" cy="222.29" r="2.9" fill="#93CDDD"/>
<circle cx="445.27" cy="243.96" r="2.9" fill="#93CDDD"/>
<circle cx="446.24" cy="271.50" r="2.9" fill="#93CDDD"/>
<circle cx="445.27" cy="299.04" r="2.9" fill="#93CDDD"/>
<circle cx="435.80" cy="325.37" r="2.9" fill="#93CDDD"/>
<circle cx="429.02" cy="358.02" r="2.9" fill="#93CDDD"/>
<circle cx="401.02" cy="372.86" r="2.9" fill="#93CDDD"/>
<circle cx="375.20" cy="393.54" r="2.9" fill="#93CDDD"/>
<circle cx="342.50" cy="387.21" r="2.9" fill="#93CDDD"/>
<circle cx="311.86" cy="385.84" r="2.9" fill="#93CDDD"/>
<circle cx="285.97" cy="369.40" r="2.9" fill="#93CDDD"/>
<circle cx="256.92" cy="357.08" r="2.9" fill="#93CDDD"/>
<circle cx="278.00" cy="308.74" r="2.9" fill="#93CDDD"/>
<circle cx="267.99" cy="291.47" r="2.9" fill="#93CDDD"/>
<circle cx="264.56" cy="271.50" r="2.9" fill="#93CDDD"/>
<circle cx="265.42" cy="250.85" r="2.9" fill="#93CDDD"/>
<circle cx="256.11" cy="221.62" r="2.9" fill="#93CDDD"/>
<circle cx="279.02" cy="208.02" r="2.9" fill="#93CDDD"/>
<circle cx="292.62" cy="185.11" r="2.9" fill="#93CDDD"/>
<circle cx="314.96" cy="168.73" r="2.9" fill="#93CDDD"/>
<polygon points="342.50,222.29 352.48,234.24 365.11,232.34 371.65,242.35 425.43,223.62 447.84,243.27 447.57,271.50 445.27,299.04 442.71,329.35 435.32,364.32 402.35,375.16 375.20,393.54 342.50,360.34 313.24,380.70 292.82,357.54 262.28,351.72 278.34,308.54 264.13,292.50 263.10,271.50 269.92,252.05 244.60,214.97 269.14,198.14 289.30,179.35 313.24,162.30" fill="none" stroke="#B2A1C7" stroke-width="2.6" stroke-linejoin="round"/>
<circle cx="342.50" cy="222.29" r="2.9" fill="#B2A1C7"/>
<circle cx="352.48" cy="234.24" r="2.9" fill="#B2A1C7"/>
<circle cx="365.11" cy="232.34" r="2.9" fill="#B2A1C7"/>
<circle cx="371.65" cy="242.35" r="2.9" fill="#B2A1C7"/>
<circle cx="425.43" cy="223.62" r="2.9" fill="#B2A1C7"/>
<circle cx="447.84" cy="243.27" r="2.9" fill="#B2A1C7"/>
<circle cx="447.57" cy="271.50" r="2.9" fill="#B2A1C7"/>
<circle cx="445.27" cy="299.04" r="2.9" fill="#B2A1C7"/>
<circle cx="442.71" cy="329.35" r="2.9" fill="#B2A1C7"/>
<circle cx="435.32" cy="364.32" r="2.9" fill="#B2A1C7"/>
<circle cx="402.35" cy="375.16" r="2.9" fill="#B2A1C7"/>
<circle cx="375.20" cy="393.54" r="2.9" fill="#B2A1C7"/>
<circle cx="342.50" cy="360.34" r="2.9" fill="#B2A1C7"/>
<circle cx="313.24" cy="380.70" r="2.9" fill="#B2A1C7"/>
<circle cx="292.82" cy="357.54" r="2.9" fill="#B2A1C7"/>
<circle cx="262.28" cy="351.72" r="2.9" fill="#B2A1C7"/>
<circle cx="278.34" cy="308.54" r="2.9" fill="#B2A1C7"/>
<circle cx="264.13" cy="292.50" r="2.9" fill="#B2A1C7"/>
<circle cx="263.10" cy="271.50" r="2.9" fill="#B2A1C7"/>
<circle cx="269.92" cy="252.05" r="2.9" fill="#B2A1C7"/>
<circle cx="244.60" cy="214.97" r="2.9" fill="#B2A1C7"/>
<circle cx="269.14" cy="198.14" r="2.9" fill="#B2A1C7"/>
<circle cx="289.30" cy="179.35" r="2.9" fill="#B2A1C7"/>
<circle cx="313.24" cy="162.30" r="2.9" fill="#B2A1C7"/>
<polygon points="342.50,210.59 354.20,227.82 368.44,226.58 377.30,236.70 427.73,222.29 441.42,244.99 443.18,271.50 447.20,299.55 445.01,330.68 430.90,359.90 403.21,376.66 375.55,394.83 342.50,379.76 310.04,392.65 284.31,372.28 252.69,361.31 269.24,313.79 255.14,294.91 255.12,271.50 260.28,249.47 239.41,211.98 270.09,199.09 287.64,176.48 312.21,158.45" fill="none" stroke="#FF0000" stroke-width="2.8" stroke-linejoin="round"/>
<path d="M342.50 204.59L348.50 210.59L342.50 216.59L336.50 210.59Z" fill="#FF0000" stroke="#000" stroke-width="1"/>
<path d="M354.20 221.82L360.20 227.82L354.20 233.82L348.20 227.82Z" fill="#FF0000" stroke="#000" stroke-width="1"/>
<path d="M368.44 220.58L374.44 226.58L368.44 232.58L362.44 226.58Z" fill="#FF0000" stroke="#000" stroke-width="1"/>
<path d="M377.30 230.70L383.30 236.70L377.30 242.70L371.30 236.70Z" fill="#FF0000" stroke="#000" stroke-width="1"/>
<path d="M427.73 216.29L433.73 222.29L427.73 228.29L421.73 222.29Z" fill="#FF0000" stroke="#000" stroke-width="1"/>
<path d="M441.42 238.99L447.42 244.99L441.42 250.99L435.42 244.99Z" fill="#FF0000" stroke="#000" stroke-width="1"/>
<path d="M443.18 265.50L449.18 271.50L443.18 277.50L437.18 271.50Z" fill="#FF0000" stroke="#000" stroke-width="1"/>
<path d="M447.20 293.55L453.20 299.55L447.20 305.55L441.20 299.55Z" fill="#FF0000" stroke="#000" stroke-width="1"/>
<path d="M445.01 324.68L451.01 330.68L445.01 336.68L439.01 330.68Z" fill="#FF0000" stroke="#000" stroke-width="1"/>
<path d="M430.90 353.90L436.90 359.90L430.90 365.90L424.90 359.90Z" fill="#FF0000" stroke="#000" stroke-width="1"/>
<path d="M403.21 370.66L409.21 376.66L403.21 382.66L397.21 376.66Z" fill="#FF0000" stroke="#000" stroke-width="1"/>
<path d="M375.55 388.83L381.55 394.83L375.55 400.83L369.55 394.83Z" fill="#FF0000" stroke="#000" stroke-width="1"/>
<path d="M342.50 373.76L348.50 379.76L342.50 385.76L336.50 379.76Z" fill="#FF0000" stroke="#000" stroke-width="1"/>
<path d="M310.04 386.65L316.04 392.65L310.04 398.65L304.04 392.65Z" fill="#FF0000" stroke="#000" stroke-width="1"/>
<path d="M284.31 366.28L290.31 372.28L284.31 378.28L278.31 372.28Z" fill="#FF0000" stroke="#000" stroke-width="1"/>
<path d="M252.69 355.31L258.69 361.31L252.69 367.31L246.69 361.31Z" fill="#FF0000" stroke="#000" stroke-width="1"/>
<path d="M269.24 307.79L275.24 313.79L269.24 319.79L263.24 313.79Z" fill="#FF0000" stroke="#000" stroke-width="1"/>
<path d="M255.14 288.91L261.14 294.91L255.14 300.91L249.14 294.91Z" fill="#FF0000" stroke="#000" stroke-width="1"/>
<path d="M255.12 265.50L261.12 271.50L255.12 277.50L249.12 271.50Z" fill="#FF0000" stroke="#000" stroke-width="1"/>
<path d="M260.28 243.47L266.28 249.47L260.28 255.47L254.28 249.47Z" fill="#FF0000" stroke="#000" stroke-width="1"/>
<path d="M239.41 205.98L245.41 211.98L239.41 217.98L233.41 211.98Z" fill="#FF0000" stroke="#000" stroke-width="1"/>
<path d="M270.09 193.09L276.09 199.09L270.09 205.09L264.09 199.09Z" fill="#FF0000" stroke="#000" stroke-width="1"/>
<path d="M287.64 170.48L293.64 176.48L287.64 182.48L281.64 176.48Z" fill="#FF0000" stroke="#000" stroke-width="1"/>
<path d="M312.21 152.45L318.21 158.45L312.21 164.45L306.21 158.45Z" fill="#FF0000" stroke="#000" stroke-width="1"/>
<text x="323.14" y="275.80" font-size="12" fill="#303030" stroke="#303030" stroke-width="0.3" textLength="6.41" lengthAdjust="spacingAndGlyphs">0</text>
<text x="313.66" y="249.25" font-size="12" fill="#303030" stroke="#303030" stroke-width="0.3" textLength="16.01" lengthAdjust="spacingAndGlyphs">0.2</text>
<text x="313.42" y="222.70" font-size="12" fill="#303030" stroke="#303030" stroke-width="0.3" textLength="16.01" lengthAdjust="spacingAndGlyphs">0.4</text>
<text x="313.59" y="196.15" font-size="12" fill="#303030" stroke="#303030" stroke-width="0.3" textLength="16.01" lengthAdjust="spacingAndGlyphs">0.6</text>
<text x="313.59" y="169.60" font-size="12" fill="#303030" stroke="#303030" stroke-width="0.3" textLength="16.01" lengthAdjust="spacingAndGlyphs">0.8</text>
<text x="323.25" y="143.05" font-size="12" fill="#303030" stroke="#303030" stroke-width="0.3" textLength="6.41" lengthAdjust="spacingAndGlyphs">1</text>
<line x1="61.5" y1="18.9" x2="84.1" y2="18.9" stroke="#F79646" stroke-width="2.6" stroke-linecap="round"/>
<circle cx="72.9" cy="18.9" r="2.9" fill="#F79646"/>
<text x="87.05" y="22.80" font-size="12" fill="#1a1a1a" stroke="#1a1a1a" stroke-width="0.15" textLength="47.85" lengthAdjust="spacingAndGlyphs">YOLOv5n</text>
<line x1="204.2" y1="18.9" x2="226.8" y2="18.9" stroke="#4BACC6" stroke-width="2.6" stroke-linecap="round"/>
<circle cx="215.6" cy="18.9" r="2.9" fill="#4BACC6"/>
<text x="229.56" y="22.80" font-size="12" fill="#1a1a1a" stroke="#1a1a1a" stroke-width="0.15" textLength="46.04" lengthAdjust="spacingAndGlyphs">YOLOv5s</text>
<line x1="346.6" y1="18.9" x2="369.2" y2="18.9" stroke="#8064A2" stroke-width="2.6" stroke-linecap="round"/>
<circle cx="358.0" cy="18.9" r="2.9" fill="#8064A2"/>
<text x="371.55" y="22.80" font-size="12" fill="#1a1a1a" stroke="#1a1a1a" stroke-width="0.15" textLength="51.65" lengthAdjust="spacingAndGlyphs">YOLOv5m</text>
<line x1="489.0" y1="18.9" x2="511.6" y2="18.9" stroke="#B65708" stroke-width="2.6" stroke-linecap="round"/>
<circle cx="500.4" cy="18.9" r="2.9" fill="#B65708"/>
<text x="514.05" y="22.80" font-size="12" fill="#1a1a1a" stroke="#1a1a1a" stroke-width="0.15" textLength="44.40" lengthAdjust="spacingAndGlyphs">YOLOv5l</text>
<line x1="61.5" y1="41.5" x2="84.1" y2="41.5" stroke="#276A7C" stroke-width="2.6" stroke-linecap="round"/>
<circle cx="72.9" cy="41.5" r="2.9" fill="#276A7C"/>
<text x="87.06" y="45.40" font-size="12" fill="#1a1a1a" stroke="#1a1a1a" stroke-width="0.15" textLength="46.14" lengthAdjust="spacingAndGlyphs">YOLOv5x</text>
<line x1="204.2" y1="41.5" x2="226.8" y2="41.5" stroke="#4C3B62" stroke-width="2.6" stroke-linecap="round"/>
<circle cx="215.6" cy="41.5" r="2.9" fill="#4C3B62"/>
<text x="229.55" y="45.40" font-size="12" fill="#1a1a1a" stroke="#1a1a1a" stroke-width="0.15" textLength="48.06" lengthAdjust="spacingAndGlyphs">YOLOv8n</text>
<line x1="346.6" y1="41.5" x2="369.2" y2="41.5" stroke="#F9AA6A" stroke-width="2.6" stroke-linecap="round"/>
<circle cx="358.0" cy="41.5" r="2.9" fill="#F9AA6A"/>
<text x="371.55" y="45.40" font-size="12" fill="#1a1a1a" stroke="#1a1a1a" stroke-width="0.15" textLength="47.44" lengthAdjust="spacingAndGlyphs">YOLOv8s</text>
<line x1="489.0" y1="41.5" x2="511.6" y2="41.5" stroke="#6FBCD1" stroke-width="2.6" stroke-linecap="round"/>
<circle cx="500.4" cy="41.5" r="2.9" fill="#6FBCD1"/>
<text x="514.05" y="45.40" font-size="12" fill="#1a1a1a" stroke="#1a1a1a" stroke-width="0.15" textLength="51.09" lengthAdjust="spacingAndGlyphs">YOLOv8m</text>
<line x1="61.5" y1="64.1" x2="84.1" y2="64.1" stroke="#9982B4" stroke-width="2.6" stroke-linecap="round"/>
<circle cx="72.9" cy="64.1" r="2.9" fill="#9982B4"/>
<text x="87.06" y="68.00" font-size="12" fill="#1a1a1a" stroke="#1a1a1a" stroke-width="0.15" textLength="44.06" lengthAdjust="spacingAndGlyphs">YOLOv8l</text>
<line x1="204.2" y1="64.1" x2="226.8" y2="64.1" stroke="#F3730A" stroke-width="2.6" stroke-linecap="round"/>
<circle cx="215.6" cy="64.1" r="2.9" fill="#F3730A"/>
<text x="229.55" y="68.00" font-size="12" fill="#1a1a1a" stroke="#1a1a1a" stroke-width="0.15" textLength="47.44" lengthAdjust="spacingAndGlyphs">YOLOv8x</text>
<line x1="346.6" y1="64.1" x2="369.2" y2="64.1" stroke="#358DA6" stroke-width="2.6" stroke-linecap="round"/>
<circle cx="358.0" cy="64.1" r="2.9" fill="#358DA6"/>
<text x="371.55" y="68.00" font-size="12" fill="#1a1a1a" stroke="#1a1a1a" stroke-width="0.15" textLength="45.01" lengthAdjust="spacingAndGlyphs">YOLOv9t</text>
<line x1="489.0" y1="64.1" x2="511.6" y2="64.1" stroke="#654E82" stroke-width="2.6" stroke-linecap="round"/>
<circle cx="500.4" cy="64.1" r="2.9" fill="#654E82"/>
<text x="514.05" y="68.00" font-size="12" fill="#1a1a1a" stroke="#1a1a1a" stroke-width="0.15" textLength="47.44" lengthAdjust="spacingAndGlyphs">YOLOv9s</text>
<line x1="61.5" y1="86.8" x2="84.1" y2="86.8" stroke="#FAC08F" stroke-width="2.6" stroke-linecap="round"/>
<circle cx="72.9" cy="86.8" r="2.9" fill="#FAC08F"/>
<text x="87.05" y="90.70" font-size="12" fill="#1a1a1a" stroke="#1a1a1a" stroke-width="0.15" textLength="51.76" lengthAdjust="spacingAndGlyphs">YOLOv9m</text>
<line x1="204.2" y1="86.8" x2="226.8" y2="86.8" stroke="#93CDDD" stroke-width="2.6" stroke-linecap="round"/>
<circle cx="215.6" cy="86.8" r="2.9" fill="#93CDDD"/>
<text x="229.55" y="90.70" font-size="12" fill="#1a1a1a" stroke="#1a1a1a" stroke-width="0.15" textLength="47.44" lengthAdjust="spacingAndGlyphs">YOLOv9c</text>
<line x1="346.6" y1="86.8" x2="369.2" y2="86.8" stroke="#B2A1C7" stroke-width="2.6" stroke-linecap="round"/>
<circle cx="358.0" cy="86.8" r="2.9" fill="#B2A1C7"/>
<text x="371.55" y="90.70" font-size="12" fill="#1a1a1a" stroke="#1a1a1a" stroke-width="0.15" textLength="48.06" lengthAdjust="spacingAndGlyphs">YOLOv9e</text>
<line x1="489.1" y1="86.8" x2="511.5" y2="86.8" stroke="#FF0000" stroke-width="2.8" stroke-linecap="round"/>
<path d="M500.00 83.50L503.30 86.80L500.00 90.10L496.70 86.80Z" fill="#FF0000" stroke="#000" stroke-width="1.4"/>
<text x="513.41" y="90.70" font-size="12" fill="#1a1a1a" stroke="#1a1a1a" stroke-width="0.15" textLength="114.35" lengthAdjust="spacingAndGlyphs">Proposed DCBS-YOLO</text>
</svg></body></html>
